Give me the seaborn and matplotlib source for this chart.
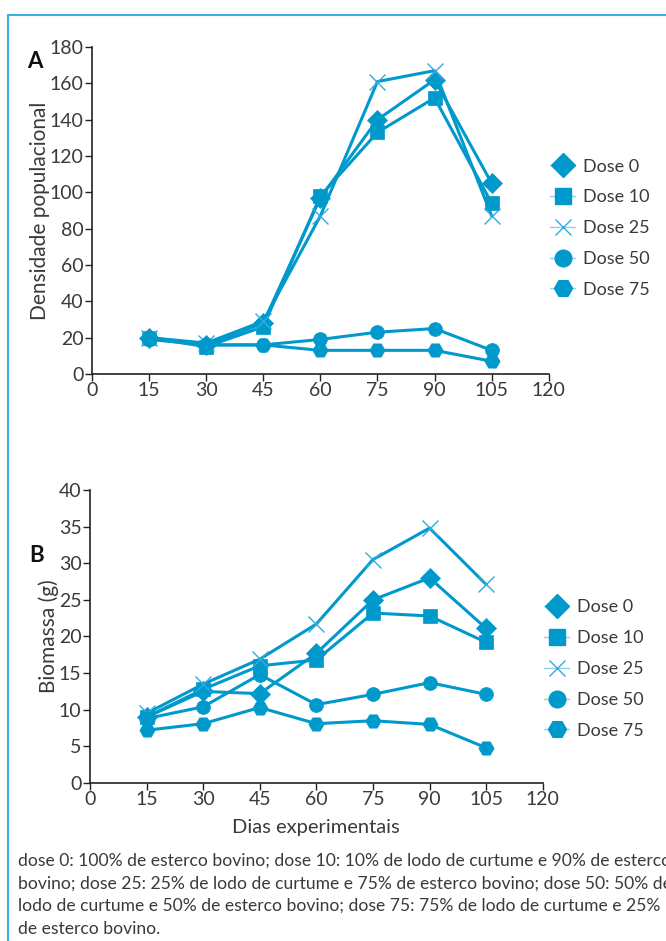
import matplotlib
matplotlib.use("Agg")
import matplotlib.pyplot as plt
import seaborn as sns
import pandas as pd
from matplotlib.lines import Line2D

sns.set_theme(style="ticks")
plt.rcParams['font.family'] = ['Lato', 'DejaVu Sans']

days = [15, 30, 45, 60, 75, 90, 105]
doses = ["Dose 0", "Dose 10", "Dose 25", "Dose 50", "Dose 75"]

dens_d0 = [20, 16, 28, 97, 140, 162, 105]
dens_d10 = [20, 15, 26, 98, 133, 152, 94]
dens_d25 = [20, 17, 29, 87, 161, 167, 87]
dens_d50 = [20, 16, 16, 19, 23, 25, 13]
dens_d75 = [19, 16, 16, 13, 13, 13, 7]

bio_d0 = [9.0, 12.5, 12.2, 17.7, 25.0, 28.0, 21.1]
bio_d10 = [9.0, 12.8, 16.0, 16.8, 23.2, 22.8, 19.2]
bio_d25 = [9.5, 13.5, 16.9, 21.7, 30.5, 34.8, 27.1]
bio_d50 = [8.8, 10.4, 14.8, 10.7, 12.1, 13.7, 12.1]
bio_d75 = [7.2, 8.1, 10.3, 8.1, 8.5, 8.0, 4.8]

x_ticks = [0, 15, 30, 45, 60, 75, 90, 105, 120]

caption = ("dose 0: 100% de esterco bovino; dose 10: 10% de lodo de curtume e 90% de esterco\n"
           "bovino; dose 25: 25% de lodo de curtume e 75% de esterco bovino; dose 50: 50% de\n"
           "lodo de curtume e 50% de esterco bovino; dose 75: 75% de lodo de curtume e 25%\n"
           "de esterco bovino.")

BLUE = "#0099CC"
LIGHT = "#33AADD"
TXT = "#3a3a3a"

styles = {
    "Dose 0": dict(marker="D", ms=10),
    "Dose 10": dict(marker="s", ms=10),
    "Dose 25": dict(marker="x", ms=11),
    "Dose 50": dict(marker="o", ms=10),
    "Dose 75": dict(marker="H", ms=11),
}

fig = plt.figure(figsize=(6.66, 9.41), dpi=100)

def make_df(series):
    rows = []
    for d, vals in zip(doses, series):
        for x, v in zip(days, vals):
            rows.append(dict(dia=x, valor=v, dose=d))
    return pd.DataFrame(rows)

def draw(ax, df, ymax, ystep, leg_y):
    for d in doses:
        sub = df[df["dose"] == d]
        st = styles[d]
        if st["marker"] == "x":
            sns.lineplot(data=sub, x="dia", y="valor", ax=ax, color=BLUE, lw=2.2,
                         marker="x", markersize=st["ms"], markeredgewidth=1.0,
                         markeredgecolor=LIGHT, legend=False)
        else:
            sns.lineplot(data=sub, x="dia", y="valor", ax=ax, color=BLUE, lw=2.2,
                         marker=st["marker"], markersize=st["ms"], markeredgewidth=0.5,
                         markeredgecolor=BLUE, markerfacecolor=BLUE, legend=False)
    ax.set_xlim(0, 120)
    ax.set_ylim(0, ymax)
    ax.set_xticks(x_ticks)
    ax.set_yticks(range(0, ymax + 1, ystep))
    for s in ["top", "right"]:
        ax.spines[s].set_visible(False)
    for s in ["left", "bottom"]:
        ax.spines[s].set_color("#222222")
        ax.spines[s].set_linewidth(1.2)
    ax.tick_params(axis="both", labelsize=14, colors="#222222", labelcolor=TXT,
                   length=5, width=1, pad=1)
    ax.set_xlabel("")
    ax.set_ylabel("")

    handles = []
    for d in doses:
        st = styles[d]
        if st["marker"] == "x":
            h = Line2D([], [], color="#8FD0EE", lw=1, marker="x", markersize=11,
                       markeredgecolor=LIGHT, markeredgewidth=1.0)
        else:
            h = Line2D([], [], color="#8FD0EE", lw=1, marker=st["marker"],
                       markersize=st["ms"] + 2, markerfacecolor=BLUE, markeredgecolor=BLUE)
        handles.append(h)
    leg = ax.legend(handles, doses, loc="center left", bbox_to_anchor=(0.995, leg_y),
                    frameon=False, fontsize=13, handlelength=1.4, handletextpad=0.4,
                    labelspacing=0.82, borderaxespad=0.0, borderpad=0.2)
    for t in leg.get_texts():
        t.set_color(TXT)
    return ax

axA = fig.add_axes([0.138, 0.6026, 0.686, 0.3474])
draw(axA, make_df([dens_d0, dens_d10, dens_d25, dens_d50, dens_d75]), 180, 20, 0.446)
axA.set_ylabel("Densidade populacional", fontsize=15, color=TXT, labelpad=0)

axB = fig.add_axes([0.135, 0.1679, 0.680, 0.3114])
draw(axB, make_df([bio_d0, bio_d10, bio_d25, bio_d50, bio_d75]), 40, 5, 0.389)
axB.set_ylabel("Biomassa (g)", fontsize=15, color=TXT, labelpad=0)
axB.set_xlabel("Dias experimentais", fontsize=14.5, color=TXT, labelpad=8)

fig.text(27 / 666, 1 - 62 / 941, "A", fontsize=16, fontweight="bold", color="#111111",
         ha="left", va="center")
fig.text(29 / 666, 1 - 556 / 941, "B", fontsize=16, fontweight="bold", color="#111111",
         ha="left", va="center")

fig.text(18 / 666, 1 - 853 / 941, caption, fontsize=12.6, color=TXT,
         ha="left", va="top", linespacing=1.5)

# frame
fig.add_artist(Line2D([8 / 666, 1.0], [1 - 15 / 941, 1 - 15 / 941], color="#3DAEE0", lw=1.5,
                      transform=fig.transFigure))
fig.add_artist(Line2D([8 / 666, 8 / 666], [1 - 15 / 941, 0], color="#3DAEE0", lw=1.5,
                      transform=fig.transFigure))

fig.savefig("out.png", dpi=100)
